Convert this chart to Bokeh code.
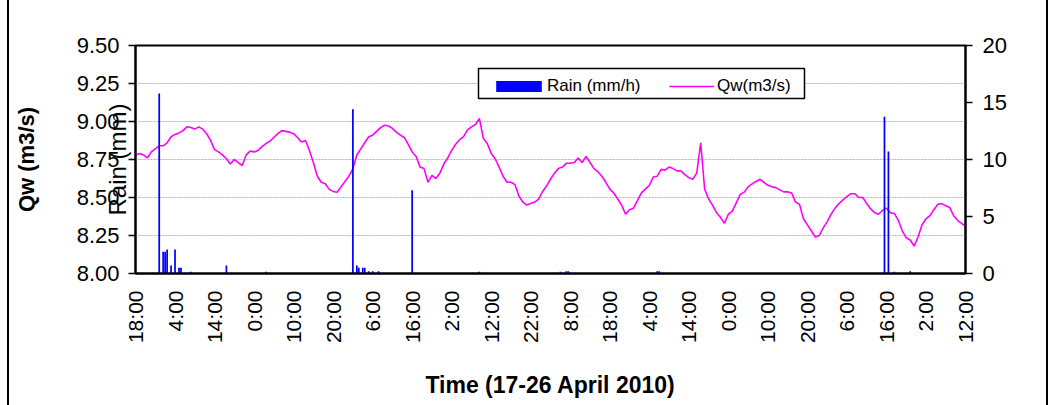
import math
from bokeh.plotting import figure
from bokeh.models import (LinearAxis, Range1d, FixedTicker, Legend, LegendItem,
                          BoxAnnotation)
from bokeh.embed import file_html
from bokeh.resources import INLINE

# ---------------- data ----------------
hours = list(range(211))  # hours since 17 April 2010 18:00
qw = [
    8.78, 8.79, 8.78, 8.76, 8.80, 8.82, 8.84, 8.84, 8.86, 8.90,
    8.915, 8.925, 8.94, 8.965, 8.96, 8.95, 8.965, 8.95, 8.92, 8.875,
    8.815, 8.80, 8.78, 8.755, 8.72, 8.75, 8.73, 8.71, 8.78, 8.805,
    8.80, 8.81, 8.835, 8.855, 8.87, 8.895, 8.92, 8.94, 8.935, 8.93,
    8.92, 8.895, 8.865, 8.875, 8.81, 8.73, 8.64, 8.60, 8.59, 8.555,
    8.54, 8.535, 8.57, 8.605, 8.64, 8.69, 8.78, 8.82, 8.86, 8.90,
    8.91, 8.935, 8.96, 8.975, 8.97, 8.955, 8.93, 8.91, 8.895, 8.85,
    8.80, 8.77, 8.70, 8.69, 8.60, 8.645, 8.625, 8.66, 8.72, 8.76,
    8.81, 8.85, 8.88, 8.90, 8.945, 8.965, 8.98, 9.02, 8.89, 8.855,
    8.79, 8.755, 8.70, 8.64, 8.60, 8.60, 8.585, 8.51, 8.47, 8.45,
    8.46, 8.47, 8.49, 8.54, 8.575, 8.62, 8.66, 8.69, 8.70, 8.725,
    8.725, 8.73, 8.76, 8.73, 8.77, 8.73, 8.69, 8.67, 8.64, 8.60,
    8.555, 8.53, 8.49, 8.45, 8.39, 8.42, 8.43, 8.48, 8.53, 8.555,
    8.58, 8.635, 8.64, 8.685, 8.68, 8.70, 8.69, 8.675, 8.675, 8.65,
    8.63, 8.62, 8.66, 8.86, 8.555, 8.49, 8.45, 8.40, 8.37, 8.33,
    8.39, 8.41, 8.465, 8.52, 8.535, 8.57, 8.59, 8.605, 8.62, 8.60,
    8.58, 8.57, 8.565, 8.55, 8.537, 8.537, 8.53, 8.47, 8.455, 8.36,
    8.32, 8.28, 8.24, 8.25, 8.30, 8.34, 8.39, 8.43, 8.46, 8.485,
    8.505, 8.525, 8.525, 8.50, 8.50, 8.46, 8.425, 8.40, 8.39, 8.415,
    8.43, 8.40, 8.395, 8.35, 8.28, 8.235, 8.22, 8.18, 8.24, 8.32,
    8.36, 8.38, 8.42, 8.455, 8.46, 8.445, 8.435, 8.38, 8.35, 8.33,
    8.31,
]
rain_hours = [6.0, 7.0, 7.5, 8.0, 9.0, 10.0, 11.0, 11.5, 14.0, 23.0, 33.0,
              55.0, 56.0, 56.5, 57.5, 58.0, 59.0, 60.0, 61.5, 70.0, 87.0,
              107.5, 109.0, 109.5, 132.0, 132.5, 189.5, 190.5, 192.0, 196.0]
rain = [15.8, 1.9, 1.9, 2.1, 0.7, 2.1, 0.5, 0.5, 0.15, 0.7, 0.15,
        14.4, 0.7, 0.5, 0.5, 0.5, 0.2, 0.2, 0.2, 7.3, 0.15,
        0.15, 0.2, 0.2, 0.2, 0.2, 13.75, 10.7, 0.15, 0.2]
tick_hours = list(range(0, 211, 10))
tick_labels = ["18:00", "4:00", "14:00", "0:00", "10:00", "20:00", "6:00",
               "16:00", "2:00", "12:00", "22:00", "8:00", "18:00", "4:00",
               "14:00", "0:00", "10:00", "20:00", "6:00", "16:00", "2:00",
               "12:00"]
qw_ticks = [8.00, 8.25, 8.50, 8.75, 9.00, 9.25, 9.50]
rain_ticks = [0, 5, 10, 15, 20]

FONT = "Liberation Sans"

# ---------------- figure ----------------
# canvas spans x = 9 .. 1050 of the page; frame at x 135..965, y 45..273
p = figure(width=1041, height=405, x_range=Range1d(0, 210), y_range=Range1d(8, 9.5),
           output_backend="svg", toolbar_location=None,
           min_border_left=126, min_border_right=85, min_border_top=45,
           min_border_bottom=132, background_fill_color="white",
           border_fill_color="white",
           styles={"margin-left": "7px", "border-left": "2px solid black",
                   "border-right": "2px solid black"})
p.outline_line_color = "black"
p.outline_line_width = 2

p.extra_y_ranges = {"rain": Range1d(0, 20)}

# grid
p.xgrid.visible = False
p.ygrid.ticker = FixedTicker(ticks=qw_ticks)
p.ygrid.grid_line_color = "#b4b4b4"
p.ygrid.grid_line_width = 1
p.ygrid.grid_line_dash = "2 1"

# left axis (carries the "Rain (mm)" title that overlaps its labels)
ya = p.yaxis[0]
ya.ticker = FixedTicker(ticks=qw_ticks)
ya.major_label_overrides = {t: f"{t:.2f}" for t in qw_ticks}
ya.major_tick_out = 7
ya.major_tick_in = 0
ya.minor_tick_out = 0
ya.minor_tick_in = 0
ya.axis_line_width = 2
ya.major_tick_line_width = 1.5
ya.major_label_text_font = FONT
ya.major_label_text_font_size = "22px"
ya.major_label_text_color = "black"
ya.major_label_standoff = 9
ya.axis_label = "Rain (mm)"
ya.axis_label_text_font = FONT
ya.axis_label_text_font_style = "normal"
ya.axis_label_text_font_size = "24px"
ya.axis_label_text_color = "black"
ya.axis_label_standoff = -57

# outer left title axis (only its label is shown)
qa = LinearAxis(ticker=FixedTicker(ticks=[]), axis_label="Qw (m3/s)")
qa.axis_line_alpha = 0
qa.major_tick_out = 0
qa.major_tick_in = 0
qa.minor_tick_out = 0
qa.minor_tick_in = 0
qa.major_label_standoff = 0
qa.axis_label_text_font = FONT
qa.axis_label_text_font_style = "bold"
qa.axis_label_text_font_size = "22px"
qa.axis_label_text_color = "black"
qa.axis_label_standoff = 62
p.add_layout(qa, "left")

# bottom axis
xa = p.xaxis[0]
xa.ticker = FixedTicker(ticks=tick_hours)
xa.major_label_overrides = {h: l for h, l in zip(tick_hours, tick_labels)}
xa.major_label_orientation = math.pi / 2
xa.major_tick_out = 0
xa.major_tick_in = 0
xa.minor_tick_out = 0
xa.minor_tick_in = 0
xa.axis_line_width = 2
xa.major_label_text_font = FONT
xa.major_label_text_font_size = "21px"
xa.major_label_text_color = "black"
xa.major_label_standoff = 17
xa.axis_label = "Time (17-26 April 2010)"
xa.axis_label_text_font = FONT
xa.axis_label_text_font_style = "bold"
xa.axis_label_text_font_size = "23px"
xa.axis_label_text_color = "black"
xa.axis_label_standoff = 26

# right axis
ra = LinearAxis(y_range_name="rain", ticker=FixedTicker(ticks=rain_ticks))
ra.major_tick_out = 7
ra.major_tick_in = 0
ra.minor_tick_out = 0
ra.minor_tick_in = 0
ra.axis_line_width = 2
ra.major_tick_line_width = 1.5
ra.major_label_text_font = FONT
ra.major_label_text_font_size = "22px"
ra.major_label_text_color = "black"
ra.major_label_standoff = 10
p.add_layout(ra, "right")

# data
line_r = p.line(hours, qw, line_color="#FF00FF", line_width=1.6)
bar_r = p.vbar(x=rain_hours, top=rain, bottom=0, width=0.44, y_range_name="rain",
               fill_color="#0000FF", line_color=None)

# page px -> data helpers for layout placement inside the frame
def dx(px):
    return (px - 135) * 210.0 / 830.0

def dy(py):
    return 8 + (273 - py) * 1.5 / 228.0

# legend box
box = BoxAnnotation(left=dx(478), right=dx(804), bottom=dy(98), top=dy(68),
                    fill_color="white", fill_alpha=1.0, line_color="black",
                    line_width=1.5, line_alpha=1.0)
p.add_layout(box)

leg1 = Legend(items=[LegendItem(label="Rain (mm/h)", renderers=[bar_r])],
              location=(490 - 135, 177), orientation="horizontal",
              padding=0, margin=0, spacing=0, glyph_width=57, glyph_height=14,
              label_height=14, label_standoff=0, border_line_alpha=0,
              background_fill_alpha=0, label_text_font=FONT,
              label_text_font_size="17px", label_text_color="black")
leg2 = Legend(items=[LegendItem(label="Qw(m3/s)", renderers=[line_r])],
              location=(669 - 135, 177), orientation="horizontal",
              padding=0, margin=0, spacing=0, glyph_width=45, glyph_height=14,
              label_height=14, label_standoff=3, border_line_alpha=0,
              background_fill_alpha=0, label_text_font=FONT,
              label_text_font_size="17px", label_text_color="black")
p.add_layout(leg1)
p.add_layout(leg2)

open("out.html", "w").write(file_html(p, INLINE))
